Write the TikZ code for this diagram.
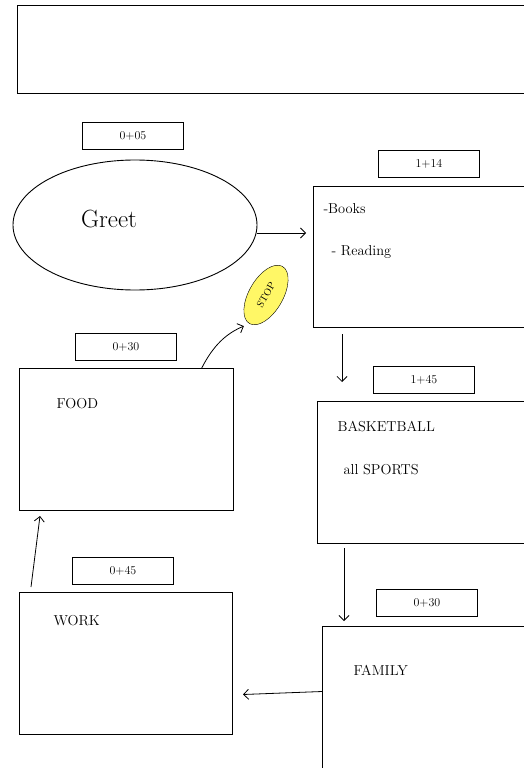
\documentclass[tikz,border=0pt]{standalone}
\usepackage{tikz}
\usetikzlibrary{shapes.geometric,arrows.meta,positioning,calc}

\begin{document}
\begin{tikzpicture}[x=1pt,y=-1pt,
    box/.style={draw, line width=1pt, rectangle, anchor=north west, inner sep=0pt},
    timebox/.style={draw, line width=0.9pt, rectangle, anchor=north west, minimum width=101pt, minimum height=27pt, inner sep=0pt, font=\large},
    note/.style={anchor=west, font=\Large},
    flow/.style={-{Straight Barb[length=5pt,width=10pt]}, line width=0.8pt}]
    \useasboundingbox (0,0) rectangle (524,768);
    \clip (0,0) rectangle (524,768);

    % Title box
    \node[box, minimum width=540pt, minimum height=88pt] (title) at (17,5) {};

    % Greeting
    \node[timebox] (tgreet) at (82,122) {0+05};
    \node[draw, line width=0.9pt, ellipse, minimum width=244pt, minimum height=130pt] (greet) at (135,225) {};
    \node[font=\Huge] (greettext) at (109,219) {Greet};

    % Books
    \node[timebox] (tbooks) at (378,150) {1+14};
    \node[box, minimum width=230pt, minimum height=141pt] (books) at (313,186) {};
    \node[note] (booksa) at (320,209) {-Books};
    \node[note] (booksb) at (328,252) {- Reading};
    \draw[flow, shorten >=7pt] ([yshift=-8pt]greet.east) -- ([yshift=-8pt]greet.east -| books.west);

    % Stop
    \node[draw, ellipse, fill=yellow!60, rotate=60, minimum width=66pt, minimum height=34pt,
          inner sep=1pt, font=\normalsize] (stop) at (266,295) {STOP};

    % Food
    \node[timebox] (tfood) at (75,333) {0+30};
    \node[box, minimum width=214pt, minimum height=142pt] (food) at (19,368) {};
    \node[note] (foodtext) at (53,404) {FOOD};
    \draw[flow, shorten >=6pt] ($(food.north west)!0.85!(food.north east)$) to[bend left=20] (stop.west);

    % Basketball
    \coordinate (bookout) at (342,334);
    \node[timebox] (tball) at (373,366) {1+45};
    \node[box, minimum width=230pt, minimum height=142pt] (ball) at (317,401) {};
    \node[note] (balla) at (334,427) {BASKETBALL};
    \node[note] (ballb) at (340,470) {all SPORTS};
    \draw[flow] (bookout) -- (bookout |- 0,382);

    % Family
    \coordinate (ballout) at (344,548);
    \node[timebox] (tfamily) at (376,589) {0+30};
    \node[box, minimum width=220pt, minimum height=160pt] (family) at (322,626) {};
    \node[note] (familytext) at (350,670) {FAMILY};
    \draw[flow, shorten >=5pt] (ballout) -- (ballout |- family.north);

    % Work
    \node[timebox] (twork) at (72,557) {0+45};
    \node[box, minimum width=213pt, minimum height=142pt] (work) at (19,592) {};
    \node[note] (worktext) at (50,621) {WORK};
    \draw[flow] ([yshift=15pt]family.west) -- ([xshift=10pt,yshift=-31pt]work.east);
    \draw[flow] ([xshift=12pt,yshift=5pt]work.north west) -- ([xshift=21pt,yshift=-5pt]food.south west);
\end{tikzpicture}
\end{document}
